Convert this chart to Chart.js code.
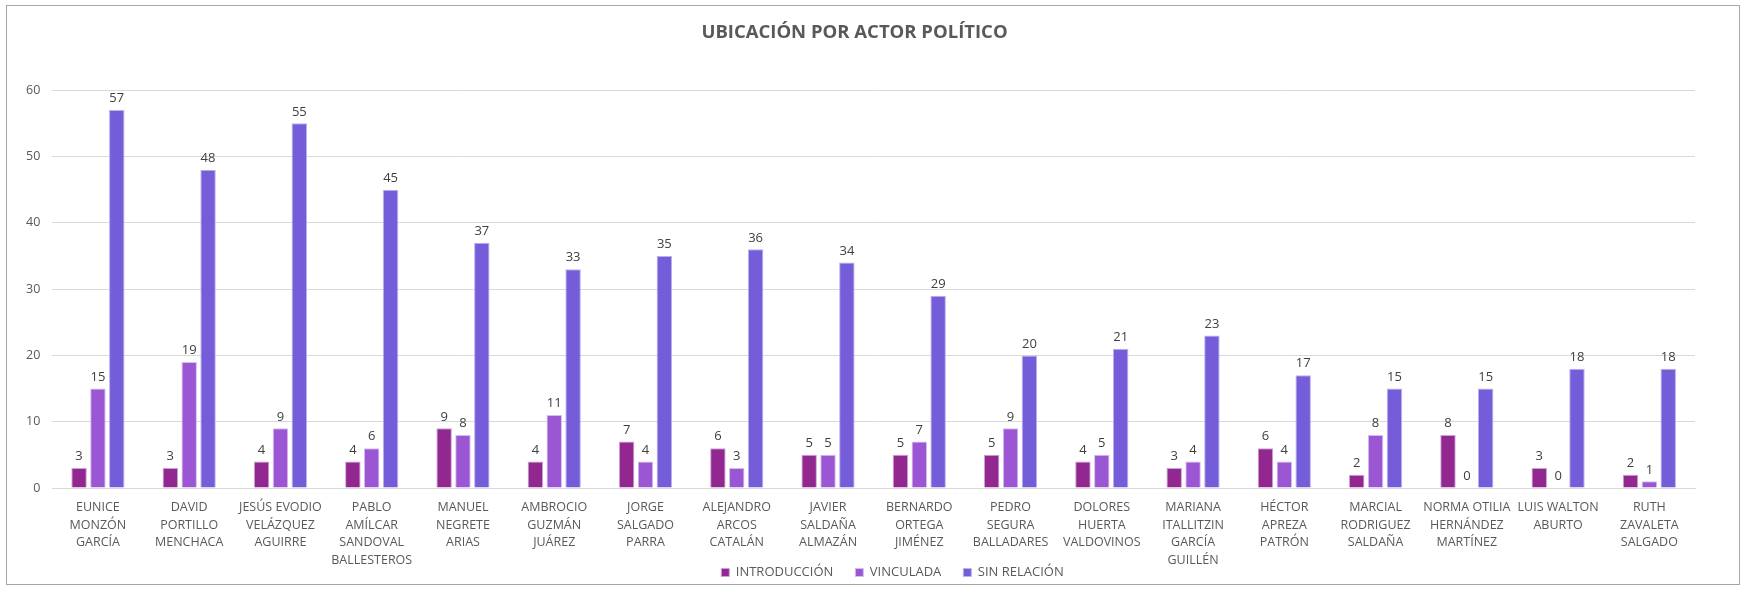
<!DOCTYPE html>
<html>
<head>
<meta charset="utf-8">
<script src="https://cdn.jsdelivr.net/npm/chart.js@4.4.1/dist/chart.umd.min.js"></script>
<style>
    html, body { margin: 0; padding: 0; background: #fff; }
    #box {
        position: absolute; left: 6px; top: 5px;
        width: 1734px; height: 580px;
        border: 1px solid #a6a6a6; box-sizing: border-box;
    }
    #wrap { position: absolute; left: 0; top: 0; width: 1745px; height: 592px; }
</style>
</head>
<body>
<div id="box"></div>
<div id="wrap"><canvas id="actorChart"></canvas></div>
<script>
let actores = [
    ['EUNICE', 'MONZÓN', 'GARCÍA'],
    ['DAVID', 'PORTILLO', 'MENCHACA'],
    ['JESÚS EVODIO', 'VELÁZQUEZ', 'AGUIRRE'],
    ['PABLO', 'AMÍLCAR', 'SANDOVAL', 'BALLESTEROS'],
    ['MANUEL', 'NEGRETE', 'ARIAS'],
    ['AMBROCIO', 'GUZMÁN', 'JUÁREZ'],
    ['JORGE', 'SALGADO', 'PARRA'],
    ['ALEJANDRO', 'ARCOS', 'CATALÁN'],
    ['JAVIER', 'SALDAÑA', 'ALMAZÁN'],
    ['BERNARDO', 'ORTEGA', 'JIMÉNEZ'],
    ['PEDRO', 'SEGURA', 'BALLADARES'],
    ['DOLORES', 'HUERTA', 'VALDOVINOS'],
    ['MARIANA', 'ITALLITZIN', 'GARCÍA', 'GUILLÉN'],
    ['HÉCTOR', 'APREZA', 'PATRÓN'],
    ['MARCIAL', 'RODRIGUEZ', 'SALDAÑA'],
    ['NORMA OTILIA', 'HERNÁNDEZ', 'MARTÍNEZ'],
    ['LUIS WALTON', 'ABURTO'],
    ['RUTH', 'ZAVALETA', 'SALGADO']
];
let introduccion = [3, 3, 4, 4, 9, 4, 7, 6, 5, 5, 5, 4, 3, 6, 2, 8, 3, 2];
let vinculada = [15, 19, 9, 6, 8, 11, 4, 3, 5, 7, 9, 5, 4, 4, 8, 0, 0, 1];
let sinRelacion = [57, 48, 55, 45, 37, 33, 35, 36, 34, 29, 20, 21, 23, 17, 15, 15, 18, 18];
let yTicks = [0, 10, 20, 30, 40, 50, 60];

const fontFamily = "'Open Sans', 'Noto Sans', sans-serif";
const textColor = '#595959';

// writes each bar's value just above its top
const valueLabels = {
    id: 'valueLabels',
    afterDatasetsDraw(chart) {
        const ctx = chart.ctx;
        ctx.save();
        ctx.font = '13px ' + fontFamily;
        ctx.fillStyle = '#404040';
        ctx.textAlign = 'center';
        ctx.textBaseline = 'bottom';
        chart.data.datasets.forEach((ds, i) => {
            chart.getDatasetMeta(i).data.forEach((bar, j) => {
                ctx.fillText(ds.data[j], bar.x, bar.y - 5);
            });
        });
        ctx.restore();
    }
};

// legend a bit right of the canvas centre; x labels may run past their box
const layoutTweaks = {
    id: 'layoutTweaks',
    afterLayout(chart) {
        chart.legend.left += 38;
        chart.legend.right += 38;
        chart.scales.x.bottom = chart.height;
    }
};

let actorChartEl = document.getElementById("actorChart").getContext('2d');
let actorChart = new Chart(actorChartEl, {
    type: 'bar',
    data: {
        labels: actores,
        datasets: [
            {
                label: 'INTRODUCCIÓN',
                data: introduccion,
                backgroundColor: '#92278f',
                borderColor: '#c9a3d6',
                borderWidth: 1
            },
            {
                label: 'VINCULADA',
                data: vinculada,
                backgroundColor: '#9b57d3',
                borderColor: '#d4bdf0',
                borderWidth: 1
            },
            {
                label: 'SIN RELACIÓN',
                data: sinRelacion,
                backgroundColor: '#755dd9',
                borderColor: '#bcb0ee',
                borderWidth: 1
            }
        ]
    },
    options: {
        responsive: true,
        maintainAspectRatio: false,
        animation: false,
        categoryPercentage: 0.62,
        barPercentage: 0.82,
        layout: {
            padding: { left: 14, right: 50, top: 22, bottom: 3 }
        },
        scales: {
            x: {
                grid: { display: false },
                border: { color: '#d9d9d9', width: 1 },
                ticks: {
                    color: textColor,
                    font: { family: fontFamily, size: 12.5, lineHeight: 1.4 },
                    maxRotation: 0,
                    autoSkip: false,
                    padding: 3
                },
                // let the longest names run down beside the legend
                afterFit(axis) {
                    axis.height -= 28;
                }
            },
            y: {
                min: 0,
                max: 60,
                afterBuildTicks(axis) {
                    axis.ticks = yTicks.map(v => ({ value: v }));
                },
                grid: { color: '#d9d9d9', lineWidth: 1, drawTicks: false },
                border: { display: false },
                ticks: {
                    color: textColor,
                    font: { family: fontFamily, size: 12.5 },
                    padding: 12
                }
            }
        },
        plugins: {
            title: {
                display: true,
                text: 'UBICACIÓN POR ACTOR POLÍTICO',
                color: textColor,
                font: { family: fontFamily, size: 18.5, weight: 'bold' },
                padding: { top: 0, bottom: 46 }
            },
            legend: {
                position: 'bottom',
                labels: {
                    color: textColor,
                    font: { family: fontFamily, size: 13 },
                    boxWidth: 8,
                    boxHeight: 8,
                    padding: 22
                }
            },
            tooltip: { enabled: false }
        }
    },
    plugins: [valueLabels, layoutTweaks]
});
</script>
</body>
</html>
